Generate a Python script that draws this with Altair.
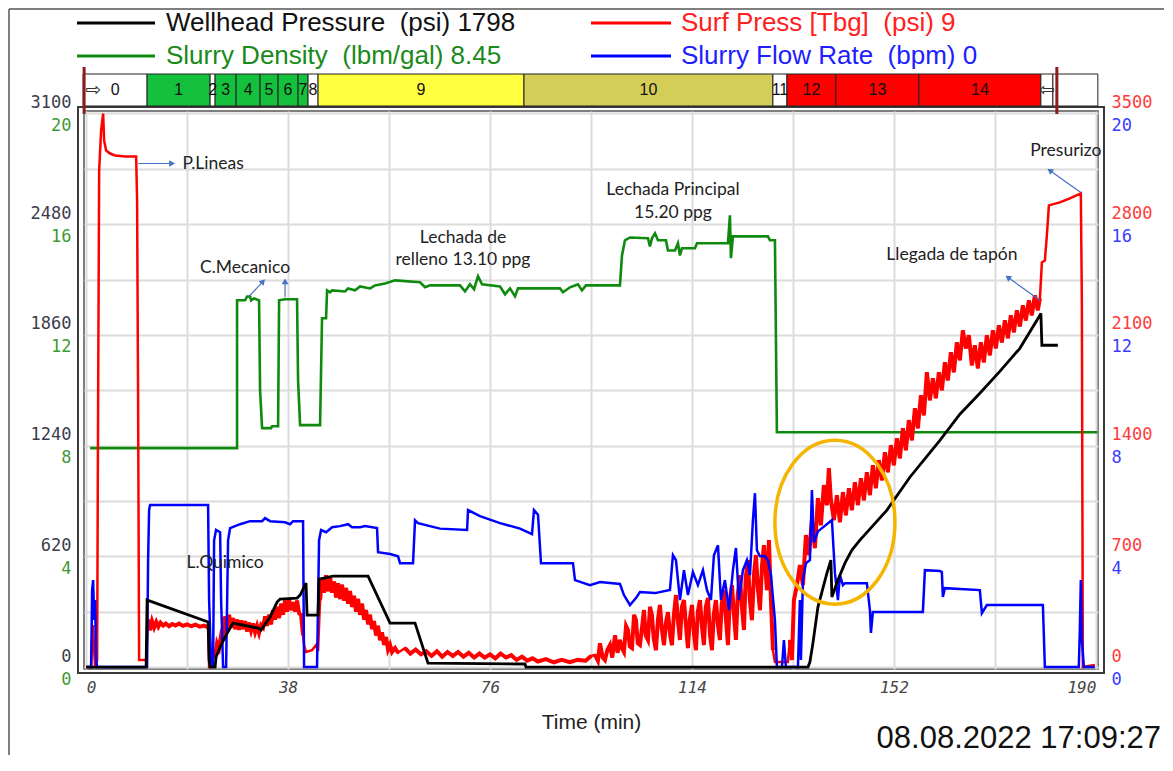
import altair as alt
import pandas as pd

MONO = "DejaVu Sans Mono"
SANS = "Liberation Sans"
ANN_FONT = "Lato"

W, H = 1014, 558

# ---------------- axes / domains ----------------
T_DOM = [-0.4, 190.4]
WH_DOM = [-11, 3114]
DEN_DOM = [-0.072, 20.09]
SURF_DOM = [-12.6, 3516]
FLOW_DOM = [-0.072, 20.09]

X_TICKS = [0, 19, 38, 57, 76, 95, 114, 133, 152, 171, 190]
WH_TICKS = [0, 620, 1240, 1860, 2480, 3100]
DEN_TICKS = [0, 2, 4, 6, 8, 10, 12, 14, 16, 18, 20]
SURF_TICKS = [0, 700, 1400, 2100, 2800, 3500]
FLOW_TICKS = [0, 4, 8, 12, 16, 20]

# ---------------- series (time min, value) ----------------
WELLHEAD = [(0, 0), (11.29, 0), (11.47, 375), (12.04, 369), (22.95, 252), (23.14, 39), (23.33, 0),
            (24.27, 0), (24.45, 56), (25.21, 112), (26.34, 179), (27.65, 246), (32.35, 218), (32.92, 207),
            (34.61, 280), (35.93, 364), (36.49, 381), (39.69, 386), (40.26, 403), (41.38, 470), (41.57, 291),
            (43.64, 291), (43.83, 492), (46.46, 509), (53.05, 509), (57.19, 246), (61.89, 246), (64.33, 22),
            (82.58, 17), (82.77, 0), (135.82, 0), (136.19, 28), (136.76, 134), (137.7, 336), (139.39, 526),
            (140.14, 599), (140.33, 392), (141.46, 487), (142.78, 582), (144.09, 655), (145.6, 711),
            (150.68, 879), (155.0, 1063), (160.65, 1270), (164.41, 1416), (168.17, 1533), (171.93, 1656),
            (175.7, 1785), (179.47, 1970), (179.65, 1981), (179.84, 1802), (182.85, 1802)]

DENSITY = [(0.75, 7.91), (28.4, 7.91), (28.4, 13.25), (29.91, 13.25), (30.29, 13.39), (30.85, 13.39),
           (31.04, 13.25), (31.6, 13.32), (32.54, 13.25), (32.73, 10.0), (33.11, 8.63), (34.8, 8.63),
           (34.99, 8.7), (36.12, 8.7), (36.31, 13.25), (37.43, 13.29), (39.69, 13.29), (39.88, 10.36),
           (40.26, 8.74), (44.02, 8.74), (44.21, 10.72), (44.39, 12.6), (45.15, 12.6), (45.34, 13.61),
           (45.9, 13.54), (46.28, 13.61), (48.72, 13.57), (49.29, 13.68), (50.6, 13.61), (51.54, 13.75),
           (53.42, 13.68), (54.36, 13.79), (56.25, 13.86), (58.13, 13.97), (62.83, 13.9), (63.77, 13.72),
           (64.71, 13.79), (70.35, 13.79), (71.29, 13.57), (72.23, 13.83), (72.99, 13.65), (73.74, 14.12),
           (74.49, 13.83), (77.88, 13.75), (78.82, 13.47), (79.76, 13.68), (80.7, 13.39), (81.26, 13.68),
           (89.16, 13.68), (89.73, 13.54), (91.05, 13.72), (92.55, 13.83), (93.3, 13.61), (94.06, 13.79),
           (100.45, 13.79), (100.83, 14.87), (101.39, 15.42), (102.33, 15.52), (105.72, 15.49),
           (106.09, 15.2), (106.47, 15.49), (107.04, 15.67), (107.6, 15.42), (109.1, 15.42),
           (109.48, 15.05), (110.8, 15.05), (111.36, 15.31), (111.74, 14.87), (112.11, 15.13),
           (114.56, 15.13), (114.94, 15.31), (120.77, 15.31), (121.14, 16.32), (121.33, 14.77),
           (121.71, 15.56), (128.29, 15.56), (128.67, 15.42), (129.61, 15.42), (129.98, 8.48), (190.3, 8.48)]

SURF = [(0, 0), (0.94, 0), (1.13, 171), (1.32, 265), (1.5, 107), (1.69, 0), (2.07, 44), (2.26, 1687),
        (2.45, 3140), (2.82, 3393), (3.2, 3500), (3.39, 3330), (3.76, 3266), (4.51, 3247), (5.46, 3235),
        (7.34, 3228), (9.41, 3228), (9.59, 2951), (9.78, 1687), (9.97, 44), (11.29, 44),
        (11.47, 171), (11.66, 300), (12.04, 234), (12.4, 290), (12.8, 250), (13.2, 285), (13.6, 255),
        (14.0, 280), (14.5, 262), (15.0, 275), (15.6, 258), (16.2, 272), (16.8, 262), (17.5, 275),
        (18.2, 260), (19.0, 270), (19.8, 258), (20.6, 268), (21.4, 255), (22.2, 262), (22.95, 250),
        (23.14, 0), (23.51, 0), (23.89, 107), (24.27, 60), (24.64, 150), (25.02, 120), (25.4, 200),
        (25.77, 170), (26.15, 320), (26.52, 230), (26.9, 330), (27.28, 250), (27.65, 310), (28.03, 240),
        (28.4, 300), (28.78, 235), (29.16, 295), (29.53, 240), (29.91, 290), (30.29, 225), (30.66, 280),
        (31.04, 230), (31.41, 275), (31.79, 220), (32.16, 260), (32.54, 215), (32.92, 265), (33.29, 250),
        (33.67, 320), (34.05, 260), (34.42, 330), (34.8, 270), (35.17, 360), (35.55, 300), (35.93, 380),
        (36.3, 310), (36.68, 400), (37.06, 330), (37.43, 420), (37.81, 350), (38.18, 430), (38.56, 360),
        (38.94, 410), (39.31, 350), (39.69, 420), (40.07, 340), (40.44, 330), (40.82, 200), (41.01, 139),
        (41.38, 95), (42.51, 107), (43.27, 139), (43.64, 100),
        (44.02, 423), (44.39, 560), (44.77, 470), (45.15, 580), (45.52, 480), (45.9, 570), (46.28, 470),
        (46.65, 540), (47.03, 440), (47.4, 530), (47.78, 430), (48.16, 520), (48.53, 420), (48.91, 500),
        (49.29, 400), (49.66, 480), (50.04, 380), (50.41, 450), (50.79, 350), (51.17, 430), (51.54, 330),
        (51.92, 400), (52.3, 300), (52.67, 360), (53.05, 270), (53.42, 330), (53.8, 240), (54.17, 290),
        (54.55, 200), (54.92, 260), (55.3, 170), (55.68, 220), (56.06, 140), (56.43, 190), (56.81, 110),
        (57.19, 140), (57.56, 95), (58.13, 120), (58.69, 90),
        (60.0, 120), (61.0, 85), (62.0, 110), (63.0, 80), (64.0, 100), (65.0, 70), (66.0, 100), (67.0, 65),
        (68.0, 95), (69.0, 70), (70.0, 95), (71.0, 65), (72.0, 90), (73.0, 60), (74.0, 85), (75.0, 60),
        (76.0, 80), (77.0, 55), (78.0, 85), (79.0, 60), (80.0, 75), (81.0, 45), (82.0, 65), (83.0, 40),
        (84.0, 55), (85.0, 35), (86.5, 50), (88.0, 30), (89.5, 45), (91.0, 30), (92.5, 45), (94.0, 40),
        (95.0, 70),
        (95.75, 76), (96.3, 40), (96.69, 150), (97.2, 60), (97.63, 44), (98.1, 110), (98.57, 139),
        (99.0, 60), (99.51, 200), (100.0, 90), (100.45, 171), (100.8, 120), (101.2, 95), (101.6, 260),
        (101.96, 234), (102.3, 130), (102.71, 120), (103.1, 330), (103.46, 297), (103.8, 150),
        (104.21, 139), (104.6, 250), (104.97, 360), (105.3, 200), (105.72, 171), (106.1, 380),
        (106.47, 329), (106.8, 180), (107.22, 107), (107.6, 300), (107.97, 392), (108.3, 250),
        (108.73, 139), (109.1, 280), (109.48, 347), (109.9, 200), (110.23, 139), (110.6, 330),
        (110.99, 455), (111.4, 280), (111.74, 171), (112.1, 380), (112.49, 423), (112.9, 250),
        (113.24, 120), (113.6, 300), (113.99, 392), (114.4, 200), (114.75, 107), (115.1, 350),
        (115.5, 423), (115.9, 250), (116.25, 139), (116.6, 380), (117.0, 436), (117.4, 200),
        (117.76, 107), (118.1, 330), (118.51, 423), (118.9, 260), (119.26, 171), (119.6, 400),
        (120.01, 486), (120.4, 300), (120.77, 139), (121.1, 420), (121.52, 518), (121.9, 330),
        (122.27, 171), (122.6, 450), (123.02, 581), (123.4, 380), (123.78, 234), (124.1, 560),
        (124.53, 676), (124.9, 420), (125.28, 297), (125.7, 600), (126.04, 708), (126.4, 500),
        (126.79, 360), (127.2, 650), (127.54, 771), (128.1, 486), (128.48, 802), (128.86, 423),
        (129.23, 107), (129.61, 32), (132.05, 32),
        (132.43, 171), (132.81, 44), (133.18, 423), (133.75, 518), (134.31, 644), (134.88, 518),
        (135.44, 834), (136.0, 708), (136.57, 929), (137.13, 752), (137.7, 1068), (138.26, 897),
        (138.82, 1150), (139.39, 1024), (139.76, 1257), (140.14, 1055), (140.71, 929), (141.27, 1087),
        (141.84, 916), (142.4, 1106), (142.96, 960), (143.53, 1131), (144.09, 992), (144.66, 1169),
        (145.22, 1024), (145.79, 1194), (146.35, 1055), (146.91, 1232), (147.48, 1087), (148.04, 1276),
        (148.61, 1131), (149.17, 1308), (149.74, 1181), (150.3, 1358), (150.86, 1232), (151.43, 1403),
        (151.99, 1276), (152.56, 1447), (153.12, 1320), (153.69, 1510), (154.25, 1371), (154.81, 1561),
        (155.38, 1434), (155.95, 1636), (156.51, 1510), (157.07, 1718), (157.64, 1592), (158.2, 1864),
        (158.77, 1687), (159.33, 1826), (159.89, 1700), (160.46, 1864), (161.02, 1750), (161.59, 1927),
        (162.15, 1813), (162.72, 1990), (163.28, 1864), (163.84, 2053), (164.41, 1940), (164.97, 2129),
        (165.54, 2015), (166.1, 2098), (166.67, 1908), (167.23, 2034), (167.79, 1889), (168.36, 2053),
        (168.92, 1927), (169.49, 2098), (170.05, 1971), (170.62, 2129), (171.18, 2015), (171.75, 2161),
        (172.31, 2053), (172.88, 2192), (173.44, 2079), (174.0, 2224), (174.57, 2117), (175.13, 2256),
        (175.7, 2154), (176.26, 2287), (176.82, 2192), (177.39, 2319), (177.95, 2224), (178.52, 2350),
        (179.08, 2256), (179.47, 2331),
        (179.84, 2559), (180.4, 2571), (180.78, 2729), (181.16, 2919), (183.22, 2938), (185.1, 2963),
        (187.17, 2995), (187.36, 2319), (187.55, 0), (189.8, 13)]

# time windows (min) where the surface-pressure trace is a dense noisy band
NOISY_WINDOWS = [(11.5, 22.95), (23.89, 40.82), (44.02, 58.69), (58.69, 95.0), (95.0, 129.23),
                 (132.43, 179.47)]

FLOW = [(0, 0), (0.94, 0), (1.13, 2.78), (1.32, 3.14), (1.5, 1.7), (1.69, 2.42), (1.88, 0.25), (2.07, 0),
        (11.47, 0), (11.66, 3.86), (11.85, 5.67), (12.04, 5.85), (22.95, 5.85), (23.14, 2.42),
        (23.51, 0.25), (23.89, 0), (24.08, 4.58), (24.45, 4.95), (25.21, 4.87), (25.4, 2.42), (25.77, 0),
        (26.34, 0), (26.71, 4.58), (27.09, 5.02), (28.97, 5.16), (30.85, 5.27), (33.11, 5.27),
        (33.67, 5.38), (34.61, 5.27), (37.43, 5.23), (38.37, 5.16), (38.94, 5.27), (40.82, 5.27),
        (41.01, 0), (43.45, 0), (43.83, 4.58), (44.21, 4.95), (45.15, 4.87), (46.28, 5.05), (47.78, 5.09),
        (49.29, 5.16), (50.04, 5.05), (51.54, 5.05), (52.48, 5.09), (54.74, 5.02), (54.93, 4.15),
        (57.19, 4.08), (58.69, 4.0), (59.07, 3.75), (61.51, 3.75), (61.89, 5.3), (62.45, 5.2),
        (66.59, 5.0), (71.68, 4.95), (71.86, 5.67), (74.11, 5.45), (77.88, 5.2), (81.64, 5.0),
        (83.9, 4.8), (84.27, 5.67), (85.03, 5.5), (85.59, 3.75), (91.61, 3.75), (91.99, 3.14),
        (94.81, 2.96), (96.69, 3.07), (100.45, 3.0), (101.2, 2.6), (102.33, 2.24), (103.46, 2.49),
        (104.21, 2.71), (107.04, 2.67), (109.85, 2.78), (110.42, 4.04), (110.99, 3.86), (111.74, 2.42),
        (112.49, 3.5), (113.24, 2.6), (114.18, 3.43), (115.12, 2.96), (116.06, 3.5), (116.82, 2.78),
        (117.57, 2.42), (118.13, 4.04), (118.89, 4.4), (119.45, 2.42), (120.2, 3.14), (120.96, 2.06),
        (121.71, 3.5), (122.27, 4.3), (122.83, 2.42), (123.59, 3.5), (124.34, 3.86), (124.91, 3.32),
        (125.47, 5.31), (125.85, 6.28), (126.22, 4.22), (126.79, 4.0), (127.73, 4.0), (128.29, 3.86),
        (128.86, 3.32), (129.61, 1.7), (129.98, 0), (130.93, 0), (131.3, 0.97), (131.68, 0), (133.94, 0),
        (134.31, 2.42), (134.5, 0.25), (134.88, 3.14), (135.44, 3.75), (136.19, 3.86), (136.57, 6.39),
        (136.95, 4.5), (137.7, 4.9), (139.0, 5.1), (140.33, 5.31), (140.9, 3.39), (141.46, 2.42),
        (141.84, 3.32), (142.4, 2.96), (142.78, 3.03), (146.91, 3.03), (147.48, 2.06), (147.67, 1.23),
        (148.04, 1.99), (157.45, 1.99), (157.83, 3.5), (160.65, 3.47), (161.02, 3.43), (161.21, 2.53),
        (161.59, 2.85), (168.17, 2.78), (168.55, 1.95), (169.49, 2.24), (180.03, 2.24), (180.4, 0),
        (186.79, 0), (186.98, 1.34), (187.17, 3.14), (187.36, 0.97), (187.74, 0), (189.8, 0)]

# ---------------- stage bar ----------------
STAGE_START = [-0.56, 11.47, 23.33, 24.27, 28.22, 32.73, 36.12, 39.88, 41.76, 43.64, 82.39,
               129.23, 131.87, 141.08, 156.70, 179.65, 181.91]
STAGE_END = STAGE_START[1:] + [190.37]
STAGE_LABEL = ["0", "1", "2", "3", "4", "5", "6", "7", "8", "9", "10", "11", "12", "13", "14", "", ""]
STAGE_KIND = ["blank", "green", "blank", "green", "green", "green", "green", "green", "blank", "yellow",
              "dotted", "blank", "red", "red", "red", "blank", "blank"]
KIND_DOMAIN = ["blank", "green", "yellow", "dotted", "red"]
KIND_COLORS = ["#ffffff", "#14c03c", "#ffff40", "#d4cd58", "#ff0000"]
STAGE_ARROW_T = [1.32, 180.78]
STAGE_ARROW = ["\u21e8", "\u21e6"]
MARKER_T = [-0.38, 182.66]

# ---------------- texts ----------------
LEGEND_TEXT = ["Wellhead Pressure \u00a0(psi) 1798", "Surf Press [Tbg] \u00a0(psi) 9",
               "Slurry Density \u00a0(lbm/gal) 8.45", "Slurry Flow Rate \u00a0(bpm) 0"]
ANNOT_TEXT = ["P.Lineas", "C.Mecanico", "L.Quimico", "Lechada de", "relleno 13.10 ppg",
              "Lechada Principal", "15.20 ppg", "Llegada de tap\u00f3n", "Presurizo"]
ANNOT_T = [23.89, 29.91, 26.15, 70.92, 70.92, 110.42, 110.42, 162.9, 184.35]
ANNOT_P = [3184, 2521, 657, 2710, 2571, 3014, 2868, 2603, 3260]
ARROW_T1 = [9.78, 30.66, 37.43, 179.47, 187.17]
ARROW_P1 = [3184, 2344, 2338, 2319, 3001]
ARROW_T2 = [16.18, 33.3, 37.43, 173.44, 181.34]
ARROW_P2 = [3184, 2439, 2439, 2464, 3140]
ARROW_ANGLE = [90, 43, 0, 306, 305]
ELLIPSE_T = [140.9]
ELLIPSE_P = [916]
STAMP = ["08.08.2022 17:09:27"]


def series_df(points, name):
    return pd.DataFrame({"t": [p[0] for p in points], name: [p[1] for p in points],
                         "i": list(range(len(points)))})


xs = alt.Scale(domain=T_DOM, nice=False, zero=False)
x_axis = alt.Axis(values=X_TICKS, grid=True, gridColor="#dcdcdc", gridWidth=2, domain=False, ticks=False,
                  labelExpr="datum.value % 38 == 0 ? datum.label : ''", labelFlush=False,
                  labelAlign={"condition": [{"test": "datum.value == 0", "value": "left"},
                                            {"test": "datum.value == 190", "value": "right"}],
                              "value": "center"},
                  labelFont=MONO, labelFontStyle="italic", labelFontSize=16, labelColor="#444",
                  labelPadding=10, title="Time (min)", titleFont=SANS, titleFontSize=21,
                  titleFontWeight="normal", titleColor="#222", titlePadding=16)


def X(field="t"):
    return alt.X(f"{field}:Q", scale=xs, axis=x_axis)


def X2(field):
    return alt.X2(f"{field}:Q")


def yscale(dom):
    return alt.Scale(domain=dom, nice=False, zero=False)


def yaxis(orient, values, color, offset, grid=False, expr=None):
    kw = dict(orient=orient, values=values, format="d", grid=grid, domain=False, ticks=False,
              labelFont=MONO, labelFontSize=17, labelColor=color, labelPadding=13,
              labelOffset=offset, title="")
    if grid:
        kw.update(gridColor="#dcdcdc", gridWidth=2)
    if expr:
        kw["labelExpr"] = expr
    return alt.Axis(**kw)


layers = []

# density (green) with horizontal grid
den = alt.Chart(series_df(DENSITY, "v")).mark_line(color="#0f8a0f", strokeWidth=2.6).encode(
    x=X(), order=alt.Order("i:Q"),
    y=alt.Y("v:Q", scale=yscale(DEN_DOM),
            axis=yaxis("left", DEN_TICKS, "#3f9a35", 12, grid=True,
                       expr="datum.value % 4 == 0 ? datum.label : ''")))
layers.append(den)

surf_df = series_df(SURF, "v")
surf = alt.Chart(surf_df).mark_line(color="#ff0000", strokeWidth=2.5).encode(
    x=X(), order=alt.Order("i:Q"),
    y=alt.Y("v:Q", scale=yscale(SURF_DOM), axis=yaxis("right", SURF_TICKS, "#ff3b3b", -11)))
layers.append(surf)

seg_expr = " : ".join(
    f"(datum.t >= {a} && datum.t <= {b}) ? {k}" for k, (a, b) in enumerate(NOISY_WINDOWS)) + " : -1"
surf_band = alt.Chart(surf_df).transform_calculate(seg=seg_expr).transform_filter(
    "datum.seg >= 0").mark_line(color="#ff0000", strokeWidth=4).encode(
    x=X(), order=alt.Order("i:Q"), detail="seg:N",
    y=alt.Y("v:Q", scale=yscale(SURF_DOM), axis=None))
layers.append(surf_band)

flow = alt.Chart(series_df(FLOW, "v")).mark_line(color="#0000ff", strokeWidth=2.5).encode(
    x=X(), order=alt.Order("i:Q"),
    y=alt.Y("v:Q", scale=yscale(FLOW_DOM), axis=yaxis("right", FLOW_TICKS, "#3b3bff", 12)))
layers.append(flow)

wh = alt.Chart(series_df(WELLHEAD, "v")).mark_line(color="#000000", strokeWidth=2.8).encode(
    x=X(), order=alt.Order("i:Q"),
    y=alt.Y("v:Q", scale=yscale(WH_DOM), axis=yaxis("left", WH_TICKS, "#3c3c4c", -11)))
layers.append(wh)

# outer plot frame
one = pd.DataFrame({"k": [0]})
layers.append(alt.Chart(one).mark_rect(filled=False, stroke="#3a3a3a", strokeWidth=2).encode(
    x=alt.value(-6), x2=alt.value(W + 6), y=alt.value(-4), y2=alt.value(H + 4)))

# annotations (surf-pressure coordinates)
ys_ann = alt.Y("P:Q", scale=yscale(SURF_DOM), axis=None)
ann_df = pd.DataFrame({"t": ANNOT_T, "P": ANNOT_P, "txt": ANNOT_TEXT})
layers.append(alt.Chart(ann_df).mark_text(font=ANN_FONT, fontSize=17.5, color="#222", align="center",
                                          baseline="middle").encode(x=X(), y=ys_ann, text="txt:N"))

arr_df = pd.DataFrame({"t": ARROW_T1, "P": ARROW_P1, "t2": ARROW_T2, "P2": ARROW_P2})
layers.append(alt.Chart(arr_df).mark_rule(color="#4472c4", strokeWidth=1.2).encode(
    x=X(), y=ys_ann, x2=X2("t2"), y2=alt.Y2("P2:Q")))
for k in range(len(ARROW_T2)):
    head = pd.DataFrame({"t": [ARROW_T2[k]], "P": [ARROW_P2[k]]})
    layers.append(alt.Chart(head).mark_point(shape="triangle-up", filled=True, size=45, color="#4472c4",
                                             opacity=1, angle=ARROW_ANGLE[k]).encode(x=X(), y=ys_ann))

ell_df = pd.DataFrame({"t": ELLIPSE_T, "P": ELLIPSE_P})
layers.append(alt.Chart(ell_df).mark_point(
    shape="M -0.732 0 A 0.732 1 0 1 1 0.732 0 A 0.732 1 0 1 1 -0.732 0 Z",
    size=26896, filled=False, stroke="#f5b400", strokeWidth=3.5, opacity=1).encode(x=X(), y=ys_ann))

# stage bar
stage_df = pd.DataFrame({"t": STAGE_START, "t2": STAGE_END, "lab": STAGE_LABEL, "kind": STAGE_KIND})
layers.append(alt.Chart(stage_df).mark_rect(stroke="#222", strokeWidth=1).encode(
    x=X(), x2=X2("t2"), y=alt.value(-37), y2=alt.value(-5),
    color=alt.Color("kind:N", scale=alt.Scale(domain=KIND_DOMAIN, range=KIND_COLORS), legend=None)))
layers.append(alt.Chart(stage_df).transform_calculate(mid="(datum.t + datum.t2) / 2").mark_text(
    font=SANS, fontSize=16, color="#111", align="center", baseline="middle").encode(
    x=X("mid"), y=alt.value(-21), text="lab:N"))
sarr_df = pd.DataFrame({"t": STAGE_ARROW_T, "g": STAGE_ARROW})
layers.append(alt.Chart(sarr_df).mark_text(font="DejaVu Sans", fontSize=19, color="#333",
                                           align="center", baseline="middle").encode(
    x=X(), y=alt.value(-21), text="g:N"))
mark_df = pd.DataFrame({"t": MARKER_T})
layers.append(alt.Chart(mark_df).mark_rule(color="#8b1c1c", strokeWidth=3).encode(
    x=X(), y=alt.value(-44), y2=alt.value(3)))

# legend
LEG_POS = [(-7, 71, -88, 82, "#000000", "#111111"), (507, 587, -88, 597, "#ff0000", "#ff2020"),
           (-7, 71, -55, 82, "#0f8a0f", "#1a8a1a"), (507, 587, -55, 597, "#0000ff", "#2020ff")]
for k, (lx1, lx2, ly, tx, lc, tc) in enumerate(LEG_POS):
    d = pd.DataFrame({"label": [LEGEND_TEXT[k]]})
    layers.append(alt.Chart(d).mark_rule(color=lc, strokeWidth=3).encode(
        x=alt.value(lx1), x2=alt.value(lx2), y=alt.value(ly)))
    layers.append(alt.Chart(d).mark_text(font=SANS, fontSize=26, color=tc, align="left",
                                         baseline="middle").encode(
        x=alt.value(tx), y=alt.value(ly), text="label:N"))

# page frame + timestamp
layers.append(alt.Chart(one).mark_rule(color="#555", strokeWidth=1.5).encode(
    x=alt.value(-75), x2=alt.value(W + 90), y=alt.value(-102)))
layers.append(alt.Chart(one).mark_rule(color="#555", strokeWidth=1.5).encode(
    x=alt.value(-75), y=alt.value(-102), y2=alt.value(H + 100)))
stamp_df = pd.DataFrame({"s": STAMP})
layers.append(alt.Chart(stamp_df).mark_text(font=SANS, fontSize=31, color="#111", align="right",
                                            baseline="alphabetic").encode(
    x=alt.value(W + 63), y=alt.value(H + 79), text="s:N"))

chart = alt.layer(*layers).resolve_scale(y="independent").properties(
    width=W, height=H,
    autosize=alt.AutoSizeParams(type="none"),
    padding={"left": 76, "top": 103, "right": 66, "bottom": 86},
).configure_view(stroke="#555", strokeWidth=1.5)

chart.save("out.html", embed_options={"renderer": "svg", "actions": False})
